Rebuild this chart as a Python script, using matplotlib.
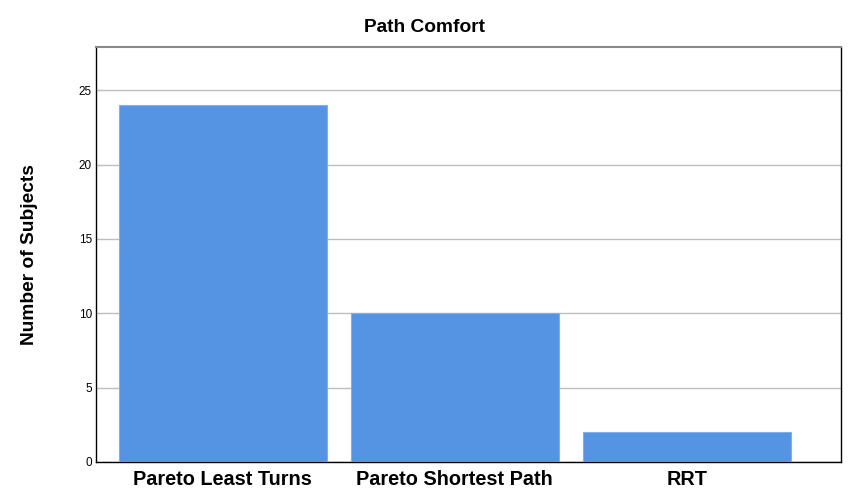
import matplotlib
matplotlib.use("Agg")
import matplotlib.pyplot as plt

categories = ["Pareto Least Turns", "Pareto Shortest Path", "RRT"]
values = [24, 10, 2]
yticks = [0, 5, 10, 15, 20, 25]

plt.rcParams['font.family'] = ['Liberation Sans', 'DejaVu Sans']

fig = plt.figure(figsize=(8.5, 5), dpi=100)
ax = fig.add_axes([96/850, 38/500, 745/850, 415/500])

x = list(range(len(categories)))
ax.bar(x, values, width=0.897, color='#5594E3', edgecolor='#7FB0EC', linewidth=0.8, zorder=3)

ax.set_xlim(-0.547, 2.665)
ax.set_ylim(0, 27.9)
ax.set_yticks(yticks)
ax.set_yticklabels([str(v) for v in yticks], fontsize=8.5)
ax.set_xticks(x)
ax.set_xticklabels(categories, fontsize=14.3, fontweight='bold')
ax.tick_params(axis='both', length=0)
ax.tick_params(axis='y', pad=3)
ax.tick_params(axis='x', pad=6)
ax.yaxis.grid(True, color='#BDBDBD', linewidth=1, zorder=0)
ax.set_axisbelow(True)

for s in ['left', 'bottom', 'right']:
    ax.spines[s].set_color('black')
    ax.spines[s].set_linewidth(1)
ax.spines['top'].set_color('#888888')
ax.spines['top'].set_linewidth(1.5)

ax.set_ylabel("Number of Subjects", fontsize=13.8, fontweight='bold')
ax.yaxis.set_label_coords(-(96-38.5)/745, 0.5)
fig.text(0.5, 1 - 27/500, "Path Comfort", fontsize=13.8, fontweight='bold',
         ha='center', va='center')

fig.savefig("out.png", dpi=100)
